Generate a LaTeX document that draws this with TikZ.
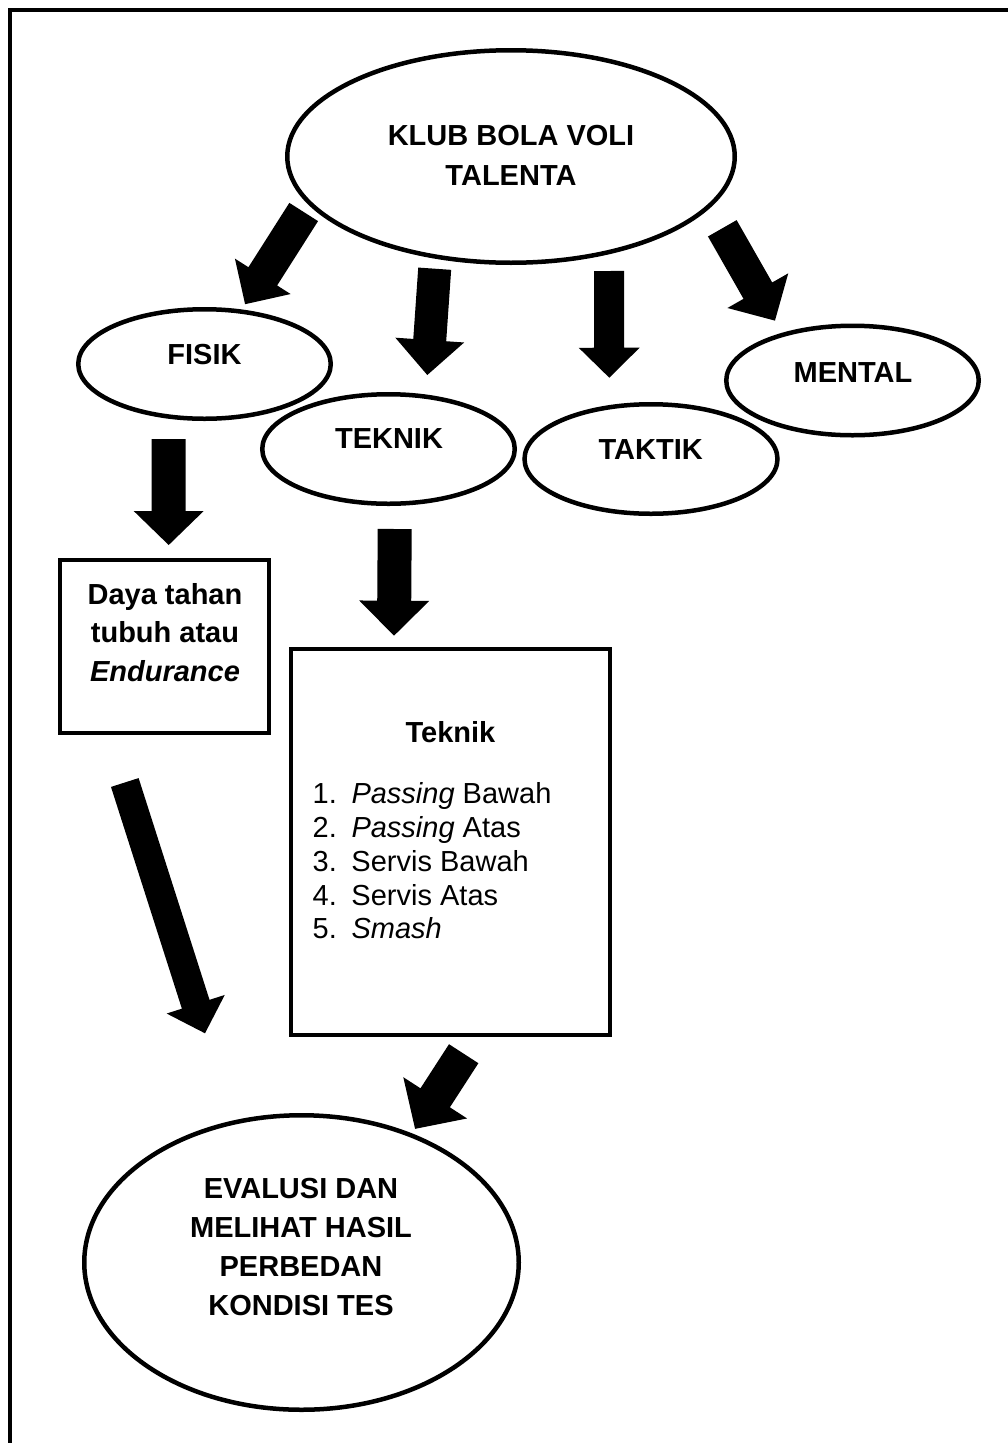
\documentclass[tikz,border=0pt]{standalone}
\usepackage{fontspec}
\setmainfont{Liberation Sans}
\usetikzlibrary{shapes.geometric,calc}
% block arrow: #1 start coordinate, #2 tip coordinate, #3 shaft half width, #4 head half width, #5 head length (pt)
\newcommand\blockarrow[5]{%
  \path let \p1=($(#2)-(#1)$) in
    \pgfextra{\pgfmathsetmacro\bangtmp{atan2(\y1,\x1)}\pgfmathsetmacro\blentmp{veclen(\x1,\y1)}%
      \global\let\baang\bangtmp\global\let\balen\blentmp};
  \fill[blk, shift={(#1)}, rotate=\baang]
    (0pt,-#3pt) -- (\balen pt-#5pt,-#3pt) -- (\balen pt-#5pt,-#4pt) -- (\balen pt,0pt)
    -- (\balen pt-#5pt,#4pt) -- (\balen pt-#5pt,#3pt) -- (0pt,#3pt) -- cycle;%
}
\begin{document}
\begin{tikzpicture}[x=1pt,y=-1pt,
  oval/.style={ellipse, draw, line width=4.5pt, inner sep=0pt},
  boxed/.style={rectangle, draw, line width=4.5pt, inner sep=0pt},
  lbl/.style={font=\fontsize{29}{39}\selectfont\bfseries, inner sep=0pt, align=center},
  itemtxt/.style={font=\fontsize{29}{33.75}\selectfont, inner sep=0pt, align=left},
  blk/.style={fill=black},
  frame/.style={line width=4.5pt, line join=miter}]
\fill[white] (0,0) rectangle (1008,1443);
\useasboundingbox (0,0) rectangle (1008,1443);
% frame
\coordinate (fbl) at (10,1443);
\coordinate (ftl) at (10,10);
\coordinate (ftr) at (1008,10);
\draw[frame] (fbl) -- (ftl) -- (ftr);

% nodes
\node[oval, minimum width=447.5pt, minimum height=212.5pt] (club) at (511,156.5) {};
\node[lbl, font=\fontsize{29}{39.7}\selectfont\bfseries] (clubt) at (511,155.4) {KLUB BOLA VOLI\\TALENTA};

\node[oval, minimum width=252.5pt, minimum height=109.5pt] (fisik) at (204.5,364) {};
\node[lbl, anchor=base] (fisikt) at (204.5,364.4) {FISIK};
\node[oval, minimum width=252.5pt, minimum height=109.5pt] (teknik) at (388.5,449) {};
\node[lbl, anchor=base] (teknikt) at (389,448.4) {TEKNIK};
\node[oval, minimum width=253pt, minimum height=109.5pt] (taktik) at (651,459) {};
\node[lbl, anchor=base] (taktikt) at (650.7,459.9) {TAKTIK};
\node[oval, minimum width=252.5pt, minimum height=109.5pt] (mental) at (852.5,380.5) {};
\node[lbl, anchor=base] (mentalt) at (853,382) {MENTAL};

\node[boxed, minimum width=209pt, minimum height=173pt] (daya) at (164.5,646.5) {};
\node[lbl, font=\fontsize{29}{38.5}\selectfont\bfseries] (dayat) at (165,632.5) {Daya tahan\\tubuh atau\\\textit{Endurance}};

\node[boxed, minimum width=319pt, minimum height=386pt] (tbox) at (450.5,842) {};
\node[lbl, anchor=base] (tboxt) at (450.5,742) {Teknik};
\node[itemtxt, anchor=north west] (tlist) at (312.5,782.6) {%
\makebox[38.8pt][l]{1.}\textit{Passing} Bawah\\
\makebox[38.8pt][l]{2.}\textit{Passing} Atas\\
\makebox[38.8pt][l]{3.}Servis Bawah\\
\makebox[38.8pt][l]{4.}Servis Atas\\
\makebox[38.8pt][l]{5.}\textit{Smash}};

\node[oval, minimum width=434.5pt, minimum height=294.5pt] (eval) at (301.5,1262.5) {};
\node[lbl] (evalt) at (301,1247) {EVALUSI DAN\\MELIHAT HASIL\\PERBEDAN\\KONDISI TES};

% arrow end points
\coordinate (a1s) at (303.7,212);   \coordinate (a1e) at (245,304.3);
\coordinate (a2s) at (434.7,268.7); \coordinate (a2e) at (427.3,375);
\coordinate (a3s) at (609,271);     \coordinate (a3e) at (609.3,377.7);
\coordinate (a4s) at (722.3,228.3); \coordinate (a4e) at (775,320.7);
\coordinate (a5s) at (168.7,439);   \coordinate (a5e) at (168.7,545);
\coordinate (a6s) at (394.7,529);   \coordinate (a6e) at (394,635.7);
\coordinate (a7s) at (124.8,782.5); \coordinate (a7e) at (205,1033.3);
\coordinate (a8s) at (463.7,1053.7);\coordinate (a8e) at (415,1129);

\blockarrow{a1s}{a1e}{17}{33}{33}
\blockarrow{a2s}{a2e}{16.5}{34.5}{35}
\blockarrow{a3s}{a3e}{15}{30.5}{30}
\blockarrow{a4s}{a4e}{16.5}{35}{34.5}
\blockarrow{a5s}{a5e}{17}{35}{34}
\blockarrow{a6s}{a6e}{17}{35}{35}
\blockarrow{a7s}{a7e}{14.5}{30.5}{30.5}
\blockarrow{a8s}{a8e}{17.5}{38}{37}
\end{tikzpicture}
\end{document}
